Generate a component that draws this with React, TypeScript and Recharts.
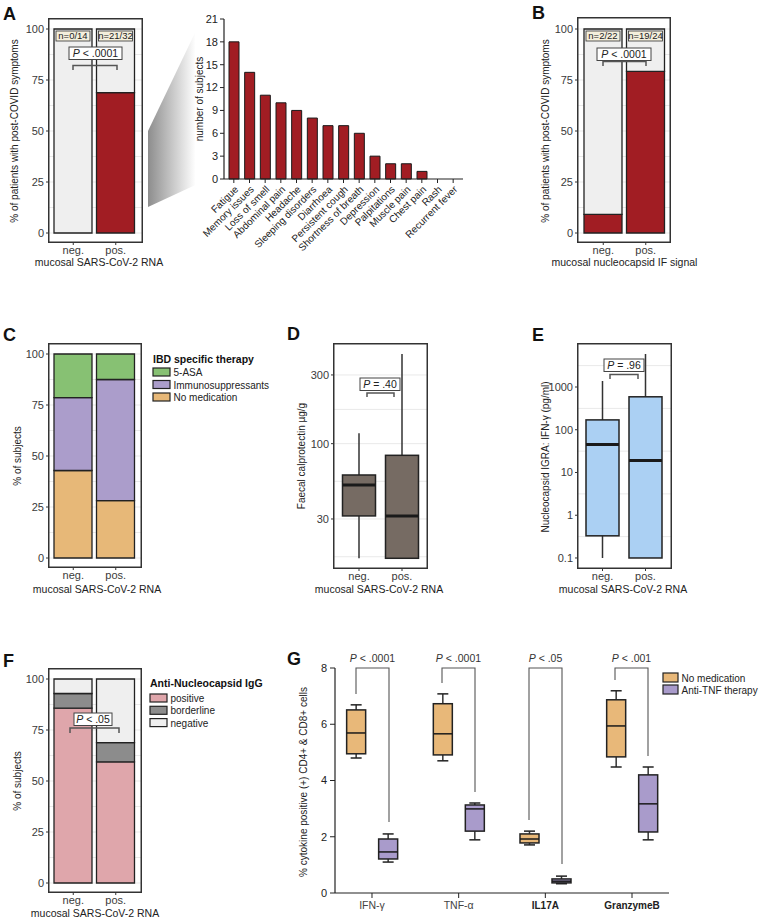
import React from 'react';
import { BarChart, Bar, XAxis, YAxis, CartesianGrid, LabelList } from 'recharts';

const FONT = '"Liberation Sans", Arial, Helvetica, sans-serif';
const INK = '#222';
const TICK = '#3a3a3a';

// A (left): post-COVID symptoms by mucosal SARS-CoV-2 RNA
const rnaGroups = ['neg.', 'pos.'];
const rnaPostCovid = [0, 68.8];
const rnaNoPostCovid = [100, 31.2];
const rnaCounts = ['n=0/14', 'n=21/32'];

// A (right): symptoms reported
const symptomNames = [
  'Fatigue', 'Memory issues', 'Loss of smell', 'Abdominal pain', 'Headache',
  'Sleeping disorders', 'Diarrhoea', 'Persistent cough', 'Shortness of breath',
  'Depression', 'Palpitations', 'Muscle pain', 'Chest pain', 'Rash', 'Recurrent fever',
];
const symptomSubjects = [18, 14, 11, 10, 9, 8, 7, 7, 6, 3, 2, 2, 1, 0, 0];

// B: post-COVID symptoms by nucleocapsid IF signal
const ifGroups = ['neg.', 'pos.'];
const ifPostCovid = [9.1, 79.2];
const ifNoPostCovid = [90.9, 20.8];
const ifCounts = ['n=2/22', 'n=19/24'];

// C: IBD specific therapy
const therapyNoMedication = [42.9, 28.1];
const therapyImmuno = [35.7, 59.4];
const therapy5Asa = [21.4, 12.5];

// D: faecal calprotectin (box stats)
const calproMin = [16, 16];
const calproQ1 = [31.5, 16];
const calproMedian = [51.6, 31.5];
const calproQ3 = [60.6, 83];
const calproMax = [118, 420];

// E: nucleocapsid IGRA
const igraMin = [0.1, 0.1];
const igraQ1 = [0.33, 0.1];
const igraMedian = [45, 19];
const igraQ3 = [170, 590];
const igraMax = [1380, 5900];

// F: anti-nucleocapsid IgG
const iggPositive = [85.7, 59.4];
const iggBorderline = [7.2, 9.4];
const iggNegative = [7.1, 31.2];

// G: cytokine positive cells
const cytokines = ['IFN-γ', 'TNF-α', 'IL17A', 'GranzymeB'];
const noMedMin = [4.8, 4.7, 1.71, 4.48];
const noMedQ1 = [4.95, 4.91, 1.78, 4.84];
const noMedMedian = [5.69, 5.66, 1.92, 5.94];
const noMedQ3 = [6.51, 6.73, 2.1, 6.87];
const noMedMax = [6.69, 7.08, 2.2, 7.19];
const antiTnfMin = [1.1, 1.89, 0.33, 1.89];
const antiTnfQ1 = [1.21, 2.2, 0.36, 2.17];
const antiTnfMedian = [1.46, 2.99, 0.42, 3.17];
const antiTnfQ3 = [1.92, 3.13, 0.5, 4.2];
const antiTnfMax = [2.1, 3.2, 0.6, 4.48];

type Frame = { x1: number; y1: number; x2: number; y2: number; padL: number; padR: number };

const tickStyle = { fontSize: 11, fill: TICK, fontFamily: FONT };

// count label ("n=0/14") in a beige box at the top of each bar
const CountLabel = (props: any) => {
  const { x, y, width, value } = props;
  if (!value) return null;
  return (
    <g>
      <rect x={x + 2} y={y + 2} width={width - 4} height={10} fill="#f4efdc" stroke="#333" strokeWidth={0.8} />
      <text x={x + width / 2} y={y + 10.3} textAnchor="middle" fontSize={9.5} fill="#222" fontFamily={FONT}>
        {value}
      </text>
    </g>
  );
};

type StackSeries = { name: string; values: number[]; fill: string };

function StackPanel({ frame, zeroY, fullY, groups, series, counts }: {
  frame: Frame; zeroY: number; fullY: number; groups: string[]; series: StackSeries[]; counts?: string[];
}) {
  const { x1, y1, x2, y2, padL, padR } = frame;
  const k = (zeroY - fullY) / 100;
  const domain = [-(y2 - 1 - zeroY) / k, (zeroY - (y1 + 1)) / k];
  const data = groups.map((g, i) => {
    const row: any = { group: g, count: counts ? counts[i] : '' };
    series.forEach((s) => { row[s.name] = s.values[i]; });
    return row;
  });
  return (
    <div style={{ position: 'absolute', left: x1 - 40, top: y1 }}>
      <BarChart width={x2 - x1 + 40} height={y2 - y1 + 28} data={data} barSize={38}
        margin={{ top: 1, right: 1, left: 0, bottom: 0 }}>
        <CartesianGrid stroke="#e9e9e9" vertical={false}
          horizontalValues={[0, 12.5, 25, 37.5, 50, 62.5, 75, 87.5, 100]} />
        <XAxis dataKey="group" height={29} padding={{ left: padL, right: padR }} axisLine={false}
          tickSize={3} tickMargin={1} tickLine={{ stroke: '#333' }} tick={tickStyle} />
        <YAxis type="number" width={41} domain={domain} allowDataOverflow ticks={[0, 25, 50, 75, 100]}
          axisLine={false} tickSize={3} tickMargin={2} tickLine={{ stroke: '#333' }} tick={tickStyle} />
        {series.map((s, i) => (
          <Bar key={s.name} dataKey={s.name} stackId="a" fill={s.fill} stroke={INK} strokeWidth={1.3}
            isAnimationActive={false}>
            {counts && i === series.length - 1 && <LabelList dataKey="count" content={CountLabel} />}
          </Bar>
        ))}
      </BarChart>
    </div>
  );
}

// box plot drawn from a [min, max] range bar; quartiles placed along the same scale
function boxShape(prefix: string, fill: string, log: boolean, cap: number, medianWidth: number) {
  return (props: any) => {
    const { x, y, width, height, payload } = props;
    const top = Math.min(y, y + height);
    const span = Math.abs(height);
    const f = (v: number) => (log ? Math.log10(v) : v);
    const hi = payload[prefix + 'Max'];
    const lo = payload[prefix + 'Min'];
    const py = (v: number) => top + (span * (f(hi) - f(v))) / (f(hi) - f(lo));
    const cx = x + width / 2;
    const yq1 = py(payload[prefix + 'Q1']);
    const yq3 = py(payload[prefix + 'Q3']);
    const ym = py(payload[prefix + 'Median']);
    return (
      <g>
        <line x1={cx} x2={cx} y1={top} y2={yq3} stroke="#333" strokeWidth={1.5} />
        <line x1={cx} x2={cx} y1={yq1} y2={top + span} stroke="#333" strokeWidth={1.5} />
        {cap > 0 && <line x1={cx - cap / 2} x2={cx + cap / 2} y1={top} y2={top} stroke={INK} strokeWidth={1.5} />}
        {cap > 0 && <line x1={cx - cap / 2} x2={cx + cap / 2} y1={top + span} y2={top + span} stroke={INK} strokeWidth={1.5} />}
        <rect x={x} y={yq3} width={width} height={Math.max(yq1 - yq3, 0.5)} fill={fill} stroke={INK} strokeWidth={1.5} />
        <line x1={x} x2={x + width} y1={ym} y2={ym} stroke="#1a1a1a" strokeWidth={medianWidth} />
      </g>
    );
  };
}

function BoxPanel({ frame, groups, min, q1, median, q3, max, domain, ticks, grid, fill }: {
  frame: Frame; groups: string[]; min: number[]; q1: number[]; median: number[]; q3: number[]; max: number[];
  domain: number[]; ticks: number[]; grid: number[]; fill: string;
}) {
  const { x1, y1, x2, y2, padL, padR } = frame;
  const data = groups.map((g, i) => ({
    group: g, range: [min[i], max[i]],
    boxMin: min[i], boxQ1: q1[i], boxMedian: median[i], boxQ3: q3[i], boxMax: max[i],
  }));
  return (
    <div style={{ position: 'absolute', left: x1 - 40, top: y1 }}>
      <BarChart width={x2 - x1 + 40} height={y2 - y1 + 28} data={data} barSize={33}
        margin={{ top: 1, right: 1, left: 0, bottom: 0 }}>
        <CartesianGrid stroke="#e9e9e9" vertical={false} horizontalValues={grid} />
        <XAxis dataKey="group" height={29} padding={{ left: padL, right: padR }} axisLine={false}
          tickSize={3} tickMargin={1} tickLine={{ stroke: '#333' }} tick={tickStyle} />
        <YAxis type="number" scale="log" width={41} domain={domain} allowDataOverflow ticks={ticks}
          axisLine={false} tickSize={3} tickMargin={2} tickLine={{ stroke: '#333' }} tick={tickStyle} />
        <Bar dataKey="range" isAnimationActive={false} shape={boxShape('box', fill, true, 0, 3)} />
      </BarChart>
    </div>
  );
}

const SymptomTick = (props: any) => {
  const { x, y, payload } = props;
  const ax = x + 5;
  const ay = y + 5;
  return (
    <text x={ax} y={ay} transform={`rotate(-45 ${ax} ${ay})`} textAnchor="end" fontSize={10}
      fill="#222" fontFamily={FONT}>
      {payload.value}
    </text>
  );
};

const CytokineTick = (props: any) => {
  const { x, y, payload, index } = props;
  const heavy = index >= 2;
  return (
    <text x={x} y={y} dy="0.75em" textAnchor="middle" fontSize={heavy ? 10 : 10.5}
      fontWeight={heavy ? 'bold' : 'normal'} fill={heavy ? '#222' : '#444'} fontFamily={FONT}>
      {payload.value}
    </text>
  );
};

const yTitles = [
  { text: '% of patients with post-COVID symptoms', x: 18, y: 131 },
  { text: '% of patients with post-COVID symptoms', x: 549, y: 131 },
  { text: 'number of subjects', x: 203, y: 99 },
  { text: '% of subjects', x: 21, y: 456 },
  { text: 'Faecal calprotectin µg/g', x: 305, y: 456 },
  { text: 'Nucleocapsid IGRA: IFN-γ (pg/ml)', x: 549, y: 457 },
  { text: '% of subjects', x: 21, y: 781 },
  { text: '% cytokine positive (+) CD4+ & CD8+ cells', x: 307, y: 782 },
];

const xTitles = [
  { text: 'mucosal SARS-CoV-2 RNA', x: 99, y: 266 },
  { text: 'mucosal nucleocapsid IF signal', x: 624.5, y: 266 },
  { text: 'mucosal SARS-CoV-2 RNA', x: 97, y: 593 },
  { text: 'mucosal SARS-CoV-2 RNA', x: 379, y: 593 },
  { text: 'mucosal SARS-CoV-2 RNA', x: 623, y: 593 },
  { text: 'mucosal SARS-CoV-2 RNA', x: 95, y: 917 },
];

const panelLetters = [
  { text: 'A', x: 3, y: 20 }, { text: 'B', x: 532, y: 19 },
  { text: 'C', x: 3, y: 341 }, { text: 'D', x: 287, y: 340 }, { text: 'E', x: 532, y: 341 },
  { text: 'F', x: 3, y: 667 }, { text: 'G', x: 287, y: 665 },
];

const pBoxes = [
  { op: '< .0001', x: 69, y: 47, w: 53 },
  { op: '< .0001', x: 597, y: 48, w: 54 },
  { op: '= .40', x: 360, y: 378, w: 40 },
  { op: '= .96', x: 604, y: 359, w: 40 },
  { op: '< .05', x: 74, y: 713, w: 38 },
];

const pBrackets = [
  'M73,70 V65.5 H117 V70',
  'M603,66 V61.5 H646 V66',
  'M367,397 V393 H394 V397',
  'M610,379 V374.5 H638 V379',
  'M70,733 V728 H119 V733',
];

const gPValues = ['< .0001', '< .0001', '< .05', '< .001'];
const gBrackets = [
  { d: 'M356,694 V668 H389 V822', cx: 372.5 },
  { d: 'M442,683 V668 H475 V792', cx: 458.5 },
  { d: 'M529,820 V668 H562 V864', cx: 545.5 },
  { d: 'M615,680 V668 H648 V756', cx: 631.5 },
];

const frames = [
  { x: 48, y: 18, w: 95, h: 225 },
  { x: 577, y: 17, w: 94, h: 226 },
  { x: 48, y: 343, w: 94, h: 225 },
  { x: 333, y: 343, w: 95, h: 226 },
  { x: 577, y: 343, w: 95, h: 226 },
  { x: 48, y: 668, w: 94, h: 225 },
];

const legends = [
  {
    title: 'IBD specific therapy', x: 153, y: 363, boxY: 368, step: 12.5, w: 17, h: 8,
    items: [
      { label: '5-ASA', fill: '#87c173' },
      { label: 'Immunosuppressants', fill: '#ab9dcb' },
      { label: 'No medication', fill: '#e7b878' },
    ],
  },
  {
    title: 'Anti-Nucleocapsid IgG', x: 150, y: 687, boxY: 694, step: 12.3, w: 17, h: 8,
    items: [
      { label: 'positive', fill: '#dfa6ab' },
      { label: 'borderline', fill: '#8c8c8c' },
      { label: 'negative', fill: '#efefef' },
    ],
  },
  {
    title: '', x: 663, y: 0, boxY: 673, step: 12, w: 15, h: 9,
    items: [
      { label: 'No medication', fill: '#e8b879' },
      { label: 'Anti-TNF therapy', fill: '#a99bcb' },
    ],
  },
];

export default function App() {
  const symptomData = symptomNames.map((s, i) => ({ symptom: s, subjects: symptomSubjects[i] }));
  const cytokineData = cytokines.map((c, i) => ({
    cytokine: c,
    noMed: [noMedMin[i], noMedMax[i]],
    noMedMin: noMedMin[i], noMedQ1: noMedQ1[i], noMedMedian: noMedMedian[i], noMedQ3: noMedQ3[i], noMedMax: noMedMax[i],
    antiTnf: [antiTnfMin[i], antiTnfMax[i]],
    antiTnfMin: antiTnfMin[i], antiTnfQ1: antiTnfQ1[i], antiTnfMedian: antiTnfMedian[i],
    antiTnfQ3: antiTnfQ3[i], antiTnfMax: antiTnfMax[i],
  }));

  return (
    <div style={{ position: 'absolute', left: 0, top: 0, width: 765, height: 919, background: '#fff', fontFamily: FONT, overflow: 'hidden' }}>
      {/* A left */}
      <StackPanel frame={{ x1: 48, y1: 18, x2: 143, y2: 243, padL: 3, padR: 5 }} zeroY={233} fullY={29}
        groups={rnaGroups} counts={rnaCounts}
        series={[
          { name: 'postCovid', values: rnaPostCovid, fill: '#a11d23' },
          { name: 'noPostCovid', values: rnaNoPostCovid, fill: '#efefef' },
        ]} />

      {/* A right: symptom counts */}
      <div style={{ position: 'absolute', left: 190, top: 0 }}>
        <BarChart width={278} height={255} data={symptomData} barSize={10}
          margin={{ top: 19, right: 5, left: 0, bottom: 0 }}>
          <XAxis dataKey="symptom" height={76} interval={0} padding={{ left: 2, right: 2 }}
            axisLine={{ stroke: INK, strokeWidth: 1.2 }} tickLine={{ stroke: INK }} tickSize={4} tick={<SymptomTick />} />
          <YAxis type="number" width={34} domain={[0, 21]} ticks={[0, 3, 6, 9, 12, 15, 18, 21]}
            axisLine={{ stroke: INK, strokeWidth: 1.2 }} tickLine={{ stroke: INK }} tickSize={4} tickMargin={2}
            tick={{ fontSize: 11, fill: '#222', fontFamily: FONT }} />
          <Bar dataKey="subjects" fill="#a11d23" stroke="#1a1a1a" strokeWidth={1} isAnimationActive={false} />
        </BarChart>
      </div>

      {/* B */}
      <StackPanel frame={{ x1: 577, y1: 17, x2: 671, y2: 243, padL: 4, padR: 3 }} zeroY={233} fullY={29}
        groups={ifGroups} counts={ifCounts}
        series={[
          { name: 'postCovid', values: ifPostCovid, fill: '#a11d23' },
          { name: 'noPostCovid', values: ifNoPostCovid, fill: '#efefef' },
        ]} />

      {/* C */}
      <StackPanel frame={{ x1: 48, y1: 343, x2: 142, y2: 568, padL: 3, padR: 4 }} zeroY={558} fullY={354}
        groups={rnaGroups}
        series={[
          { name: 'noMedication', values: therapyNoMedication, fill: '#e7b878' },
          { name: 'immuno', values: therapyImmuno, fill: '#ab9dcb' },
          { name: 'asa', values: therapy5Asa, fill: '#87c173' },
        ]} />

      {/* D */}
      <BoxPanel frame={{ x1: 333, y1: 343, x2: 428, y2: 569, padL: 3.5, padR: 3.5 }} groups={rnaGroups}
        min={calproMin} q1={calproQ1} median={calproMedian} q3={calproQ3} max={calproMax}
        domain={[13.7, 492]} ticks={[30, 100, 300]} grid={[16.4, 30, 54.8, 100, 173, 300]} fill="#766b63" />

      {/* E */}
      <BoxPanel frame={{ x1: 577, y1: 343, x2: 672, y2: 569, padL: 3, padR: 4 }} groups={rnaGroups}
        min={igraMin} q1={igraQ1} median={igraMedian} q3={igraQ3} max={igraMax}
        domain={[0.0583, 10140]} ticks={[0.1, 1, 10, 100, 1000]}
        grid={[0.1, 0.316, 1, 3.16, 10, 31.6, 100, 316, 1000, 3162]} fill="#abd0f3" />

      {/* F */}
      <StackPanel frame={{ x1: 48, y1: 668, x2: 142, y2: 893, padL: 3, padR: 4 }} zeroY={883} fullY={679}
        groups={rnaGroups}
        series={[
          { name: 'positive', values: iggPositive, fill: '#dfa6ab' },
          { name: 'borderline', values: iggBorderline, fill: '#8c8c8c' },
          { name: 'negative', values: iggNegative, fill: '#efefef' },
        ]} />

      {/* G */}
      <div style={{ position: 'absolute', left: 290, top: 640 }}>
        <BarChart width={385} height={279} data={cytokineData} barSize={19} barGap={13}
          margin={{ top: 28, right: 6, left: 0, bottom: 0 }}>
          <XAxis dataKey="cytokine" height={26} padding={{ left: -6.35, right: -6.35 }}
            axisLine={{ stroke: INK, strokeWidth: 1.2 }} tickLine={{ stroke: INK }} tickSize={5} tickMargin={3}
            tick={<CytokineTick />} />
          <YAxis type="number" width={45} domain={[0, 8]} ticks={[0, 2, 4, 6, 8]}
            axisLine={{ stroke: INK, strokeWidth: 1.2 }} tickLine={{ stroke: INK }} tickSize={5} tickMargin={3}
            tick={{ fontSize: 11, fill: '#222', fontFamily: FONT }} />
          <Bar dataKey="noMed" isAnimationActive={false} shape={boxShape('noMed', '#e8b879', false, 11, 1.5)} />
          <Bar dataKey="antiTnf" isAnimationActive={false} shape={boxShape('antiTnf', '#a99bcb', false, 11, 1.5)} />
        </BarChart>
      </div>

      {/* annotations: frames, titles, p-values, legends */}
      <svg width={765} height={919} style={{ position: 'absolute', left: 0, top: 0, pointerEvents: 'none' }}
        fontFamily={FONT}>
        <defs>
          <linearGradient id="wedge" x1="0" y1="0" x2="1" y2="0">
            <stop offset="0" stopColor="#8d8d8d" />
            <stop offset="0.85" stopColor="#ffffff" />
          </linearGradient>
        </defs>
        <polygon points="148,131 204,14 204,181 148,207" fill="url(#wedge)" />

        {frames.map((f, i) => (
          <rect key={i} x={f.x + 0.75} y={f.y + 0.75} width={f.w - 1.5} height={f.h - 1.5}
            fill="none" stroke="#333" strokeWidth={1.5} />
        ))}

        {panelLetters.map((p) => (
          <text key={p.text} x={p.x} y={p.y} fontSize={18} fontWeight="bold" fill="#111">{p.text}</text>
        ))}

        {yTitles.map((t, i) => (
          <text key={i} transform={`translate(${t.x},${t.y}) rotate(-90)`} textAnchor="middle"
            fontSize={10} fill="#222">{t.text}</text>
        ))}
        {xTitles.map((t, i) => (
          <text key={i} x={t.x} y={t.y} textAnchor="middle" fontSize={10.5} fill="#222">{t.text}</text>
        ))}

        {pBoxes.map((b, i) => (
          <g key={i}>
            <rect x={b.x} y={b.y} width={b.w} height={12.5} fill="#fff" stroke="#444" strokeWidth={1} />
            <text x={b.x + b.w / 2} y={b.y + 10} textAnchor="middle" fontSize={10.5} fill="#222">
              <tspan fontStyle="italic">P</tspan> {b.op}
            </text>
          </g>
        ))}
        {pBrackets.map((d, i) => (
          <path key={i} d={d} fill="none" stroke="#555" strokeWidth={1.5} />
        ))}

        {gBrackets.map((b, i) => (
          <g key={i}>
            <path d={b.d} fill="none" stroke="#555" strokeWidth={1.1} />
            <text x={b.cx} y={662} textAnchor="middle" fontSize={10.5} fill="#333">
              <tspan fontStyle="italic">P</tspan> {gPValues[i]}
            </text>
          </g>
        ))}

        {legends.map((lg, i) => (
          <g key={i}>
            {lg.title && <text x={lg.x} y={lg.y} fontSize={10.5} fontWeight="bold" fill="#111">{lg.title}</text>}
            {lg.items.map((it, j) => (
              <g key={it.label}>
                <rect x={lg.x} y={lg.boxY + j * lg.step} width={lg.w} height={lg.h} fill={it.fill}
                  stroke={INK} strokeWidth={1.2} />
                <text x={lg.x + lg.w + 3.5} y={lg.boxY + j * lg.step + lg.h} fontSize={10} fill="#222">{it.label}</text>
              </g>
            ))}
          </g>
        ))}
      </svg>
    </div>
  );
}
